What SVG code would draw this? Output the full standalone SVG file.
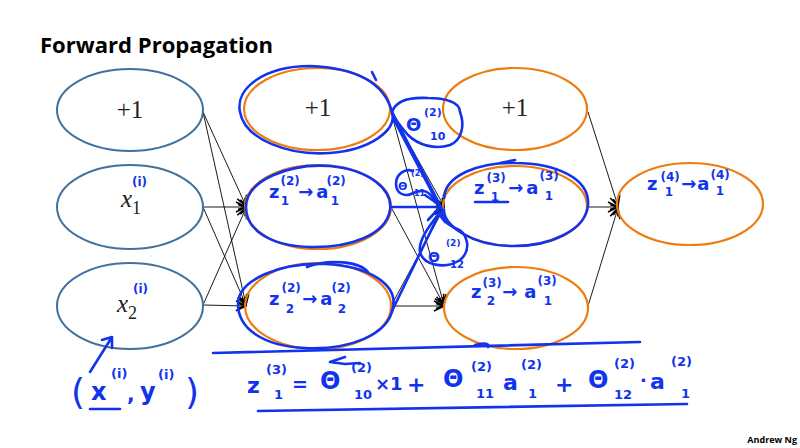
<svg xmlns="http://www.w3.org/2000/svg" width="800" height="448" viewBox="0 0 800 448">
<defs>
<marker id="arr" viewBox="0 0 12 12" refX="11" refY="6" markerWidth="12" markerHeight="12" markerUnits="userSpaceOnUse" orient="auto">
<path d="M1,1 L11,6 L1,11 M3,3.5 L10,6 L3,8.5" fill="none" stroke="#000" stroke-width="1.6"/>
</marker>
<style>
.l1{fill:none;stroke:#41719c;stroke-width:2}
.nd{fill:none;stroke:#ed7d10;stroke-width:2.2}
.cn{stroke:#000;stroke-width:0.9;fill:none;marker-end:url(#arr)}
.ink{fill:none;stroke:#1133ee;stroke-width:2.6;stroke-linecap:round;stroke-linejoin:round}
.hw{fill:#1133ee;font-family:"DejaVu Sans",sans-serif;font-size:18px;font-weight:bold}
.sup{font-size:12px}
.sub{font-size:12px}
.math{font-family:"Liberation Serif",serif;fill:#222}
</style>
</defs>
<rect width="800" height="448" fill="#fff"/>
<text x="40" y="53" font-family="'Open Sans',sans-serif" font-weight="bold" font-size="21" textLength="233" lengthAdjust="spacingAndGlyphs" fill="#000">Forward Propagation</text>
<text x="797" y="443" text-anchor="end" font-family="'Open Sans',sans-serif" font-weight="bold" font-size="9" fill="#000">Andrew Ng</text>

<g id="connectors">
<line class="cn" x1="203" y1="112" x2="246" y2="206"/>
<line class="cn" x1="203" y1="112" x2="246" y2="305"/>
<line class="cn" x1="203" y1="207" x2="246" y2="207"/>
<line class="cn" x1="203" y1="207" x2="246" y2="305"/>
<line class="cn" x1="203" y1="305" x2="246" y2="208"/>
<line class="cn" x1="203" y1="305" x2="246" y2="306"/>
<line class="cn" x1="391" y1="112" x2="444" y2="206"/>
<line class="cn" x1="391" y1="112" x2="444" y2="305"/>
<line class="cn" x1="391" y1="207" x2="444" y2="207"/>
<line class="cn" x1="391" y1="207" x2="444" y2="305"/>
<line class="cn" x1="391" y1="306" x2="444" y2="208"/>
<line class="cn" x1="391" y1="306" x2="444" y2="306"/>
<line class="cn" x1="588" y1="112" x2="618" y2="206"/>
<line class="cn" x1="588" y1="207" x2="618" y2="207"/>
<line class="cn" x1="588" y1="306" x2="618" y2="208"/>
</g>

<g id="n1_bias"><ellipse class="l1" cx="130" cy="110" rx="73" ry="41"/><text class="math" x="130" y="118" text-anchor="middle" font-size="25">+1</text></g>
<g id="n1_x1"><ellipse class="l1" cx="130" cy="207" rx="73" ry="42"/><text class="math" x="121" y="207" font-size="25" font-style="italic">x<tspan font-style="normal" font-size="18" dy="7">1</tspan></text><text class="hw sup" x="132" y="186">(i)</text></g>
<g id="n1_x2"><ellipse class="l1" cx="130" cy="306" rx="73" ry="43"/><text class="math" x="117" y="312" font-size="25" font-style="italic">x<tspan font-style="normal" font-size="18" dy="7">2</tspan></text><text class="hw sup" x="133" y="293">(i)</text></g>

<g id="n2_bias"><ellipse class="nd" cx="317" cy="109" rx="73" ry="41"/><text class="math" x="318" y="116" text-anchor="middle" font-size="25">+1</text></g>
<g id="n2_a1"><ellipse class="nd" cx="318" cy="207" rx="73" ry="42"/>
<text class="hw" x="269" y="198">z<tspan class="sup" dx="1" dy="-13">(2)</tspan><tspan class="sub" dx="-19" dy="20">1</tspan><tspan dx="9" dy="-7">→</tspan><tspan dx="3">a</tspan><tspan class="sup" dx="-2" dy="-13">(2)</tspan><tspan class="sub" dx="-15" dy="20">1</tspan></text></g>
<g id="n2_a2"><ellipse class="nd" cx="318" cy="306" rx="73" ry="43"/>
<text class="hw" x="269" y="305">z<tspan class="sup" dx="2" dy="-13">(2)</tspan><tspan class="sub" dx="-15" dy="21">2</tspan><tspan dx="8" dy="-8">→</tspan><tspan dx="3">a</tspan><tspan class="sup" dx="-1" dy="-13">(2)</tspan><tspan class="sub" dx="-13" dy="21">2</tspan></text></g>

<g id="n3_bias"><ellipse class="nd" cx="515" cy="109" rx="72" ry="41"/><text class="math" x="515" y="116" text-anchor="middle" font-size="25">+1</text></g>
<g id="n3_a1"><ellipse class="nd" cx="515" cy="206" rx="72" ry="40"/>
<text class="hw" x="474" y="194">z<tspan class="sup" dx="2" dy="-12">(3)</tspan><tspan class="sub" dx="-15" dy="19">1</tspan><tspan dx="9" dy="-7">→</tspan><tspan dx="3">a</tspan><tspan class="sup" dx="1" dy="-14">(3)</tspan><tspan class="sub" dx="-14" dy="20">1</tspan></text>
<line class="ink" x1="475" y1="202" x2="508" y2="202" stroke-width="2"/></g>
<g id="n3_a2"><ellipse class="nd" cx="516" cy="308" rx="72" ry="41"/>
<text class="hw" x="471" y="298">z<tspan class="sup" dx="1" dy="-11">(3)</tspan><tspan class="sub" dx="-15" dy="18">2</tspan><tspan dx="7" dy="-7">→</tspan><tspan dx="7">a</tspan><tspan class="sup" dx="1" dy="-13">(3)</tspan><tspan class="sub" dx="-13" dy="20">1</tspan></text></g>

<g id="n4_out"><ellipse class="nd" cx="690" cy="204" rx="73" ry="41"/>
<text class="hw" x="647" y="190">z<tspan class="sup" dx="3" dy="-9">(4)</tspan><tspan class="sub" dx="-15" dy="15">1</tspan><tspan dx="8" dy="-6">→</tspan><tspan dx="1">a</tspan><tspan class="sup" dx="1" dy="-11">(4)</tspan><tspan class="sub" dx="-14" dy="16">1</tspan></text></g>

<g id="annotations">
<path class="ink" d="M392,112 C385,85 360,68 310,66 C265,66 235,88 240,112 C245,140 290,156 330,153 C370,150 398,130 392,112"/>
<path class="ink" d="M372,72 L376,80"/>
<path class="ink" d="M246,207 C246,180 290,163 330,166 C370,170 393,190 390,210 C386,235 350,248 310,247 C270,246 246,230 246,207"/>
<path class="ink" d="M238,304 C238,280 280,262 325,264 C370,266 398,285 393,308 C388,335 350,350 305,348 C262,346 238,328 238,304"/>
<path class="ink" d="M307,267 C330,258 360,262 368,272"/>
<path class="ink" d="M444,198 C445,175 480,162 515,163 C555,163 590,178 588,205 C586,230 550,247 510,246 C470,245 444,225 444,210"/>
<path class="ink" d="M500,163 L515,160"/>
<path class="ink" stroke-width="4" d="M392,112 L440,205"/>
<path class="ink" stroke-width="3" d="M393,118 L436,200"/>
<path class="ink" stroke-width="5" d="M392,207 L440,207"/>
<path class="ink" stroke-width="2.5" d="M392,311 L440,212"/>
<path class="ink" stroke-width="2" d="M425,195 L441,206 L428,220 M441,206 L445,222"/>
<path class="ink" d="M392,112 C396,100 410,97 428,98 C445,98 460,102 460,112 C465,125 462,140 450,145 C435,150 418,145 408,135 C400,126 394,118 392,112"/>
<text class="hw" x="406" y="131" style="font-size:18px">Θ</text>
<text class="hw" x="424" y="116" style="font-size:11px">(2)</text>
<text class="hw" x="430" y="140" style="font-size:11px">10</text>
<path class="ink" d="M413,171 C405,168 396,174 396,184 C396,193 404,197 411,194 C420,190 428,188 434,200"/>
<text class="hw" x="398" y="190" style="font-size:11px">Θ</text>
<text class="hw" x="411" y="176" style="font-size:8px">(2)</text>
<text class="hw" x="414" y="196" style="font-size:8px">11</text>
<path class="ink" d="M440,212 C430,225 418,240 420,252 C423,265 445,270 460,260 C472,250 468,232 455,228 C447,224 440,218 440,212"/>
<text class="hw" x="428" y="262" style="font-size:14px">Θ</text>
<text class="hw" x="446" y="246" style="font-size:9px">(2)</text>
<text class="hw" x="450" y="268" style="font-size:10px">12</text>
<path class="ink" d="M213,353 L640,342"/>
<path class="ink" d="M258,411 L687,404"/>
<path class="ink" stroke-width="2" d="M345,357 L330,362 L345,364 L360,363"/>
<path class="ink" stroke-width="2" d="M475,345 C485,342 490,344 488,347"/>
<path class="ink" d="M90,372 L112,337 M102,340 L112,337 L112,348"/>
<line class="ink" x1="90" y1="409" x2="120" y2="409" stroke-width="2.2"/>
<text class="hw" x="71" y="404" style="font-size:36px;font-weight:normal">(</text>
<text class="hw" x="91" y="400" style="font-size:24px">x</text>
<text class="hw" x="111" y="378" style="font-size:13px">(i)</text>
<text class="hw" x="127" y="401" style="font-size:20px">,</text>
<text class="hw" x="140" y="400" style="font-size:24px">y</text>
<text class="hw" x="158" y="379" style="font-size:13px">(i)</text>
<text class="hw" x="185" y="404" style="font-size:36px;font-weight:normal">)</text>
<g id="equation">
<text class="hw" x="247" y="393" style="font-size:22px">z</text>
<text class="hw" x="266" y="374" style="font-size:13px">(3)</text>
<text class="hw" x="274" y="399" style="font-size:13px">1</text>
<text class="hw" x="292" y="391" style="font-size:19px">=</text>
<text class="hw" x="320" y="389" style="font-size:24px">Θ</text>
<text class="hw" x="351" y="372" style="font-size:13px">(2)</text>
<text class="hw" x="354" y="399" style="font-size:13px">10</text>
<text class="hw" x="375" y="390" style="font-size:18px">×1</text>
<text class="hw" x="407" y="392" style="font-size:22px">+</text>
<text class="hw" x="443" y="387" style="font-size:24px">Θ</text>
<text class="hw" x="471" y="371" style="font-size:13px">(2)</text>
<text class="hw" x="476" y="398" style="font-size:13px">11</text>
<text class="hw" x="503" y="390" style="font-size:22px">a</text>
<text class="hw" x="521" y="369" style="font-size:13px">(2)</text>
<text class="hw" x="528" y="398" style="font-size:13px">1</text>
<text class="hw" x="555" y="392" style="font-size:22px">+</text>
<text class="hw" x="588" y="388" style="font-size:24px">Θ</text>
<text class="hw" x="614" y="368" style="font-size:13px">(2)</text>
<text class="hw" x="614" y="399" style="font-size:13px">12</text>
<text class="hw" x="640" y="387" style="font-size:18px">·</text>
<text class="hw" x="650" y="389" style="font-size:22px">a</text>
<text class="hw" x="671" y="366" style="font-size:13px">(2)</text>
<text class="hw" x="681" y="398" style="font-size:13px">1</text>
</g>
</g>
</svg>
